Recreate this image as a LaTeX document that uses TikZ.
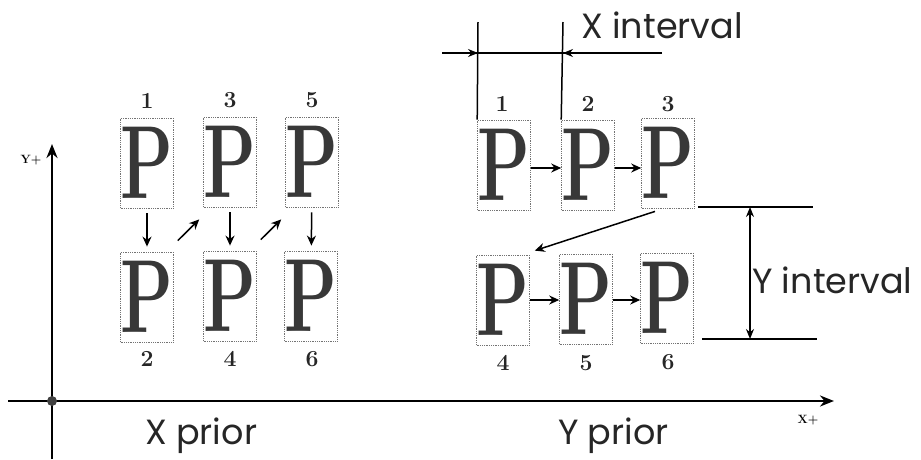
\documentclass[tikz,border=0pt]{standalone}
\usepackage{fontspec}
\newfontfamily\gothic{Poppins}
\usetikzlibrary{arrows.meta,calc}
\newcommand{\bigP}{\scalebox{0.66}[1]{\fontsize{104}{104}\selectfont\bfseries P}}
\begin{document}
\begin{tikzpicture}[x=1pt,y=-1pt,
  pbox/.style={draw=black!55, densely dotted, line width=0.8pt, minimum width=51pt, minimum height=90pt, inner sep=0pt, text=black!78},
  num/.style={font=\fontsize{23}{23}\selectfont\bfseries, inner sep=0pt, text=black!85},
  arr/.style={-{Stealth[length=10pt,width=9pt]}, line width=1.5pt},
  axis/.style={line width=2.6pt},
  lbl/.style={font=\gothic\fontsize{35}{35}\selectfont, inner sep=0pt, text=black!85},
  dim/.style={line width=1.5pt}]
\useasboundingbox (0,0) rectangle (921,459);
% axes
\coordinate (O) at (52,401);
\coordinate (ytop) at (52,144);
\coordinate (ybot) at (52,459);
\coordinate (xleft) at (8,401);
\coordinate (xright) at (834,401);
\draw[axis,-{Stealth[length=14pt,width=11pt]}] (ybot) -- (ytop);
\draw[axis,-{Stealth[length=14pt,width=11pt]}] (xleft) -- (xright);
\fill[black!75] (O) circle (5pt);
\node[font=\fontsize{12}{12}\selectfont\bfseries, inner sep=0pt] (yp) at (31,160) {Y+};
\node[font=\fontsize{12}{12}\selectfont\bfseries, inner sep=0pt] (xp) at (808,420) {X+};
% left group (X prior)
\node[pbox] (L1) at (147,163) {\bigP};
\node[pbox] (L3) at (230,162) {\bigP};
\node[pbox] (L5) at (312,162) {\bigP};
\node[pbox] (L2) at (147,297) {\bigP};
\node[pbox] (L4) at (230,296) {\bigP};
\node[pbox] (L6) at (311,296) {\bigP};
\node[num] (n1) at (147,101) {1};
\node[num] (n3) at (230,100) {3};
\node[num] (n5) at (312,100) {5};
\node[num] (n2) at (147,359) {2};
\node[num] (n4) at (230,359) {4};
\node[num] (n6) at (312,359) {6};
\draw[arr, shorten <=5pt, shorten >=5pt] (L1) -- (L2);
\draw[arr, shorten <=5pt, shorten >=5pt] (L3) -- (L4);
\draw[arr, shorten <=5pt, shorten >=5pt] (L5) -- (L6);
\draw[arr] ($(L2.north east)+(4,-11)$) -- ($(L3.south west)+(-4,12)$);
\draw[arr] ($(L4.north east)+(4,-11)$) -- ($(L5.south west)+(-4,12)$);
\node[lbl, anchor=west] (xprior) at (145,436) {X prior};
% right group (Y prior)
\node[pbox] (R1) at (504,165) {\bigP};
\node[pbox] (R2) at (588,165) {\bigP};
\node[pbox] (R3) at (668,163) {\bigP};
\node[pbox] (R4) at (503,300) {\bigP};
\node[pbox] (R5) at (586,299) {\bigP};
\node[pbox] (R6) at (667,298) {\bigP};
\node[num] (m1) at (502,104) {1};
\node[num] (m2) at (588,104) {2};
\node[num] (m3) at (668,104) {3};
\node[num] (m4) at (503,363) {4};
\node[num] (m5) at (586,363) {5};
\node[num] (m6) at (668,362) {6};
\draw[arr] (R1.east |- 0,168) -- (R2.west |- 0,168);
\draw[arr] (R2.east |- 0,168) -- (R3.west |- 0,168);
\draw[arr] (R4.east |- 0,300) -- (R5.west |- 0,300);
\draw[arr] (R5.east |- 0,300) -- (R6.west |- 0,300);
\draw[arr] ($(R3.south)+(-13,3)$) -- ($(R4.north east)+(5,-4)$);
\node[lbl, anchor=west] (yprior) at (558,436) {Y prior};
% X interval
\coordinate (xi1) at (478,22);
\coordinate (xi2) at (563,22);
\draw[dim] (R1.north west) -- (xi1);
\draw[dim] (R2.north west) -- (xi2);
\coordinate (xh0) at (442,53);
\coordinate (xh3) at (662,53);
\draw[dim] (xh0) -- (xh3);
\draw[dim,-{Stealth[length=10pt,width=8pt]}] (xh0) -- (xi1 |- xh0);
\draw[dim,-{Stealth[length=10pt,width=8pt]}] (xh3) -- (xi2 |- xh0);
\node[lbl, anchor=west] (xint) at (581,25) {X interval};
% Y interval
\coordinate (ya1) at (698,207);
\coordinate (ya2) at (813,207);
\coordinate (yb1) at (702,339);
\coordinate (yb2) at (817,339);
\draw[dim] (ya1) -- (ya2);
\draw[dim] (yb1) -- (yb2);
\draw[dim,{Stealth[length=10pt,width=8pt]}-{Stealth[length=10pt,width=8pt]}] (750,207) -- (750,339);
\node[lbl, anchor=west] (yint) at (752,280) {Y interval};
\end{tikzpicture}
\end{document}
